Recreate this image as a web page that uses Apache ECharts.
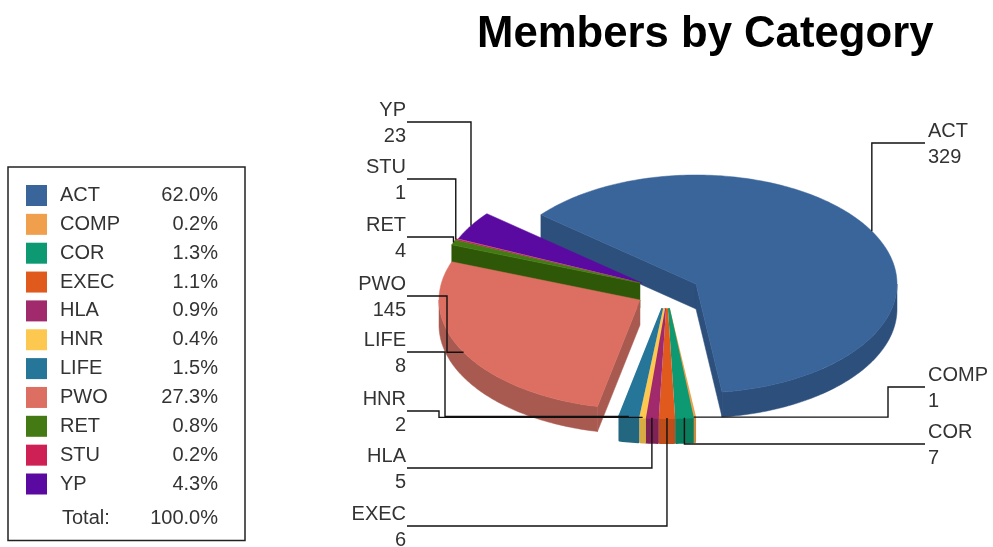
<!DOCTYPE html>
<html>
<head>
<meta charset="utf-8">
<title>Members by Category</title>
<script src="https://cdn.jsdelivr.net/npm/echarts@6/dist/echarts.min.js"></script>
<style>
    html, body { margin: 0; padding: 0; background: #fff; }
    #chart { width: 993px; height: 547px; }
</style>
</head>
<body>
<div id="chart"></div>
<script>
// values
let categories = ['ACT', 'COMP', 'COR', 'EXEC', 'HLA', 'HNR', 'LIFE', 'PWO', 'RET', 'STU', 'YP'];
let members = [329, 1, 7, 6, 5, 2, 8, 145, 4, 1, 23];
let shares = ['62.0%', '0.2%', '1.3%', '1.1%', '0.9%', '0.4%', '1.5%', '27.3%', '0.8%', '0.2%', '4.3%'];
let colors = ['#3a659a', '#f0a04d', '#0d9a73', '#e05a1e', '#a02a6c', '#fcc850', '#26769a', '#dc6f61', '#447a14', '#cf2055', '#5a0aa0'];
let sideColors = ['#2d4f7c', '#c98a42', '#0b7d5d', '#c04e1a', '#7f2256', '#d8ac44', '#22677f', '#a85a50', '#2e5808', '#a01a42', '#46087e'];

// fake 3d pie: flattened circle, pulled apart in groups
let radiusX = 201, radiusY = 109, depth = 25, startAngle = -140.5;
let apexes = {
    ACT: [696, 284],
    PWO: [640, 300],
    RET: [640, 283], STU: [640, 283], YP: [642, 283],
    COMP: [669, 309], COR: [669, 309], EXEC: [667, 309], HLA: [665, 309], HNR: [664, 309], LIFE: [662, 309]
};
// painter's order, back to front
let drawOrder = ['ACT', 'YP', 'STU', 'RET', 'PWO', 'COMP', 'COR', 'EXEC', 'HLA', 'HNR', 'LIFE'];
// which cut edges show a wall: 0 = start of the slice, 1 = end of the slice
let cutWalls = { ACT: [0, 1], PWO: [0], RET: [0] };
// the thin slices sit a little apart at the tip, a wider outline closes the seams
let thinSlices = ['COMP', 'COR', 'EXEC', 'HLA', 'HNR', 'LIFE'];

// leader lines: a null coordinate is taken from the slice's arc middle
let leaders = {
    ACT: { side: 'right', pts: [[925, 143], [null, 143]] },
    COMP: { side: 'right', pts: [[925, 387], [888, 387], [888, null]] },
    COR: { side: 'right', pts: [[925, 444], [null, 444]] },
    EXEC: { side: 'left', pts: [[407, 526], [null, 526]] },
    HLA: { side: 'left', pts: [[407, 468], [null, 468]] },
    HNR: { side: 'left', pts: [[407, 411], [439, 411], [439, null]] },
    LIFE: { side: 'left', pts: [[407, 352], [445, 352], [445, null]] },
    PWO: { side: 'left', pts: [[407, 296], [447, 296], [447, null]] },
    RET: { side: 'left', pts: [[407, 237], [null, 237]] },
    STU: { side: 'left', pts: [[407, 179], [null, 179]] },
    YP: { side: 'left', pts: [[407, 122], [null, 122]] }
};

let total = members.reduce((a, b) => a + b, 0);

function sliceAngles(index) {
    let before = 0;
    for (let i = 0; i < index; i++) {
        before += members[i];
    }
    return [startAngle + before / total * 360, startAngle + (before + members[index]) / total * 360];
}

function arcPoint(apex, deg) {
    let r = deg * Math.PI / 180;
    return [apex[0] + radiusX * Math.cos(r), apex[1] + radiusY * Math.sin(r)];
}

function arcPoints(apex, from, to) {
    let pts = [];
    let steps = Math.max(2, Math.ceil(Math.abs(to - from)));
    for (let i = 0; i <= steps; i++) {
        pts.push(arcPoint(apex, from + (to - from) * i / steps));
    }
    return pts;
}

function down(p) {
    return [p[0], p[1] + depth];
}

function renderSlice(params, api) {
    let index = params.seriesIndex;
    let name = categories[index];
    let angles = sliceAngles(index);
    let apex = apexes[name];
    let rank = drawOrder.indexOf(name);
    let outline = thinSlices.indexOf(name) >= 0 ? 2 : 0.5;
    let children = [];
    let sideStyle = { fill: sideColors[index], stroke: sideColors[index], lineWidth: outline, lineJoin: 'round' };

    // straight walls of the cut
    (cutWalls[name] || []).forEach(which => {
        let outer = arcPoint(apex, angles[which]);
        children.push({
            type: 'polygon', z2: rank * 2,
            shape: { points: [apex, outer, down(outer), down(apex)] },
            style: sideStyle
        });
    });

    // outer wall, only the front half of the ellipse shows
    let wallFrom = Math.max(angles[0], 0), wallTo = Math.min(angles[1], 180);
    if (wallTo > wallFrom) {
        let top = arcPoints(apex, wallFrom, wallTo);
        children.push({
            type: 'polygon', z2: rank * 2,
            shape: { points: top.concat(top.map(down).reverse()) },
            style: sideStyle
        });
    }

    // top face
    children.push({
        type: 'polygon', z2: rank * 2 + 1,
        shape: { points: [apex].concat(arcPoints(apex, angles[0], angles[1])) },
        style: { fill: colors[index], stroke: colors[index], lineWidth: outline, lineJoin: 'round' }
    });

    // leader line and label
    let leader = leaders[name];
    let anchor = arcPoint(apex, (angles[0] + angles[1]) / 2);
    let line = leader.pts.map(p => [p[0] === null ? anchor[0] : p[0], p[1] === null ? anchor[1] : p[1]]);
    line.push(anchor);
    children.push({
        type: 'polyline', z2: 100,
        shape: { points: line },
        style: { fill: null, stroke: '#111', lineWidth: 1.4 }
    });
    children.push({
        type: 'text', z2: 101,
        style: {
            x: leader.side === 'left' ? 406 : 928,
            y: leader.pts[0][1] + 1.5,
            text: name + '\n' + api.value(0),
            fontFamily: 'Liberation Sans',
            fontSize: 20,
            lineHeight: 26,
            fill: '#333',
            align: leader.side === 'left' ? 'right' : 'left',
            verticalAlign: 'middle'
        }
    });
    return { type: 'group', children: children };
}

let myChart = echarts.init(document.getElementById('chart'));
let option = {
    animation: false,
    backgroundColor: '#fff',
    title: {
        text: 'Members by Category',
        left: 477,
        top: 13,
        padding: 0,
        textStyle: {
            color: '#000',
            fontFamily: 'Liberation Sans',
            fontWeight: 'bold',
            fontSize: 43.7
        }
    },
    legend: {
        orient: 'vertical',
        left: 8,
        top: 167,
        icon: 'rect',
        itemWidth: 21,
        itemHeight: 21,
        itemGap: 7.85,
        padding: [18, 27, 46, 18],
        borderColor: '#222',
        borderWidth: 1.5,
        backgroundColor: '#fff',
        selectedMode: false,
        data: categories,
        formatter: function (name) {
            return '{n|' + name + '}{p|' + shares[categories.indexOf(name)] + '}';
        },
        textStyle: {
            rich: {
                n: { width: 85, padding: [0, 0, 0, 8], fontFamily: 'Liberation Sans', fontSize: 20, color: '#333', lineHeight: 21 },
                p: { width: 73, align: 'right', fontFamily: 'Liberation Sans', fontSize: 20, color: '#333', lineHeight: 21 }
            }
        }
    },
    graphic: [
        { type: 'text', left: 62, top: 508, z: 10, style: { text: 'Total:', fontFamily: 'Liberation Sans', fontSize: 20, fill: '#333' } },
        { type: 'text', right: 775, top: 508, z: 10, style: { text: '100.0%', fontFamily: 'Liberation Sans', fontSize: 20, fill: '#333' } }
    ],
    series: categories.map((name, i) => ({
        type: 'custom',
        name: name,
        coordinateSystem: 'none',
        silent: true,
        itemStyle: { color: colors[i] },
        renderItem: renderSlice,
        data: [[members[i]]]
    }))
};
myChart.setOption(option);
</script>
</body>
</html>
